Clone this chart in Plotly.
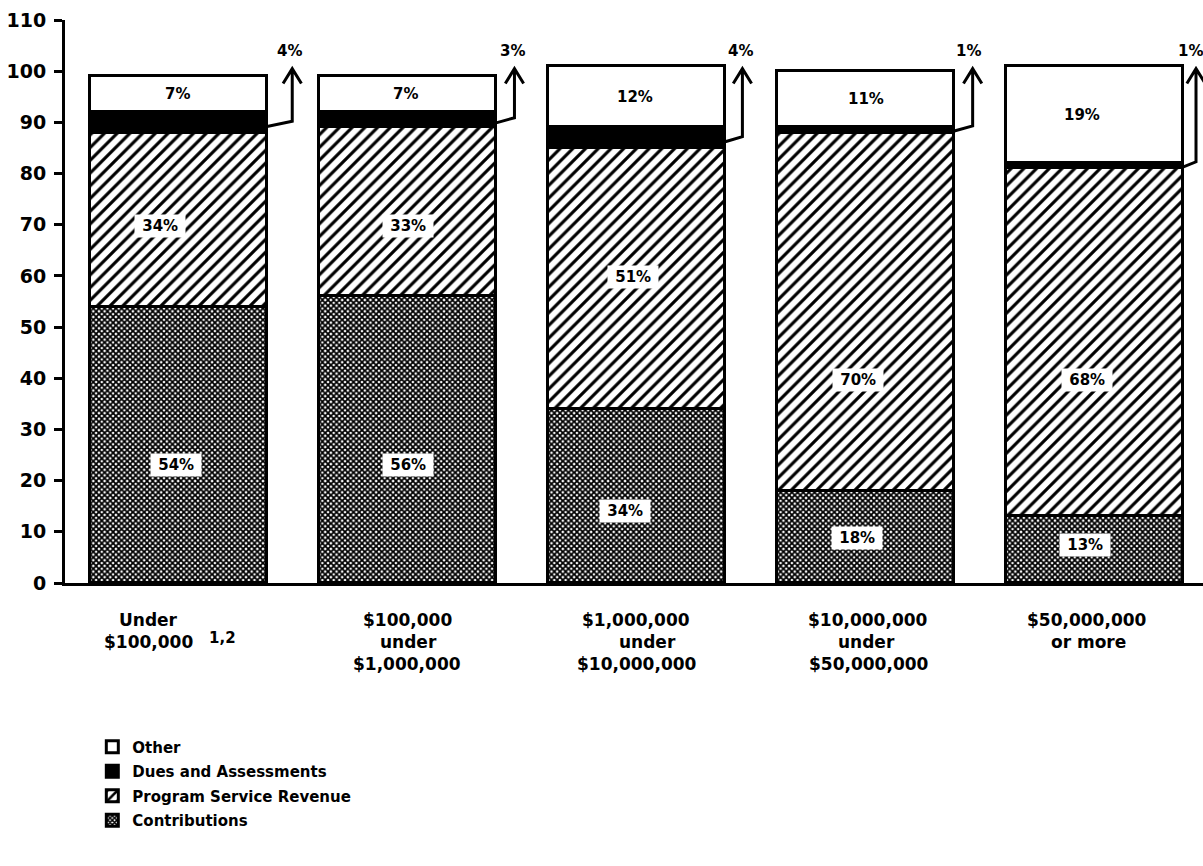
import plotly.graph_objects as go

# Revenue composition by size of total assets (percent of total revenue)
categories = [
    "Under $100,000",
    "$100,000 under $1,000,000",
    "$1,000,000 under $10,000,000",
    "$10,000,000 under $50,000,000",
    "$50,000,000 or more",
]
category_lines = [
    ["Under", "$100,000"],
    ["$100,000", "under", "$1,000,000"],
    ["$1,000,000", "under", "$10,000,000"],
    ["$10,000,000", "under", "$50,000,000"],
    ["$50,000,000", "or more"],
]
contributions = [54, 56, 34, 18, 13]
program_service = [34, 33, 51, 70, 68]
dues = [4, 3, 4, 1, 1]
other = [7, 7, 12, 11, 19]
y_ticks = list(range(0, 111, 10))

FONT = "DejaVu Sans"
BAR_W = 0.773
xs = list(range(len(categories)))

fig = go.Figure()

line_style = dict(color="black", width=3)

fig.add_trace(go.Bar(
    name="Contributions", x=xs, y=contributions, width=BAR_W,
    legendgroup="c", legendrank=4,
    marker=dict(color="white", line=line_style,
                pattern=dict(shape="x", size=4, solidity=0.7,
                             fgcolor="black", bgcolor="white", fgopacity=1)),
))
fig.add_trace(go.Bar(
    name="Program Service Revenue", x=xs, y=program_service, width=BAR_W,
    legendgroup="p", legendrank=3,
    marker=dict(color="white", line=line_style,
                pattern=dict(shape="/", size=9, solidity=0.35,
                             fgcolor="black", bgcolor="white", fgopacity=1)),
))
fig.add_trace(go.Bar(
    name="Dues and Assessments", x=xs, y=dues, width=BAR_W,
    legendgroup="d", legendrank=2,
    marker=dict(color="black", line=line_style),
))
fig.add_trace(go.Bar(
    name="Other", x=xs, y=other, width=BAR_W,
    legendgroup="o", legendrank=1,
    marker=dict(color="white", line=line_style),
))

annotations = []
shapes = []

def pct_label(x, y, value, dx=0, box=True):
    annotations.append(dict(
        x=x, y=y, xref="x", yref="y", xshift=dx,
        text=("\u00a0%d%%\u00a0" % value) if box else "%d%%" % value,
        showarrow=False, bgcolor="white" if box else None, borderpad=2,
        font=dict(family=FONT, size=15, color="black", weight="bold"),
    ))

# label placement inside segments (value units / pixel nudges)
contrib_label_y = [23, 23, 14, 8.8, 7.4]
contrib_label_dx = [-2, 0, -12, -9, -10]
program_label_y = [69.7, 69.7, 59.8, 39.7, 39.7]
program_label_dx = [-18, 0, -4, -8, -8]
other_label_dx = [-1, -2, -2, 0, -13]
arrow_offset = [0.11, 0.08, 0.075, 0.08, 0.055]
arrow_label_dx = [-3, -2, -2, -4, -6]

for i in xs:
    pct_label(i, contrib_label_y[i], contributions[i], contrib_label_dx[i])
    pct_label(i, program_label_y[i], program_service[i], program_label_dx[i])
    base_other = contributions[i] + program_service[i] + dues[i]
    pct_label(i, base_other + other[i] / 2, other[i], other_label_dx[i], box=False)

    # callout arrow for the thin dues segment
    base_dues = contributions[i] + program_service[i]
    x_r = i + BAR_W / 2
    y0 = base_dues + dues[i] * 0.3
    x1 = x_r + arrow_offset[i]
    y1 = y0 + 1.0
    y_tip = 100.5
    dx, dy = 0.04, 2.9
    shapes.append(dict(
        type="path", xref="x", yref="y",
        path=(f"M{x_r},{y0} L{x1},{y1} L{x1},{y_tip} "
              f"M{x1 - dx},{y_tip - dy} L{x1},{y_tip} L{x1 + dx},{y_tip - dy}"),
        line=dict(color="black", width=3),
    ))
    annotations.append(dict(
        x=x1, y=y_tip, xref="x", yref="y", xshift=arrow_label_dx[i], yshift=18,
        text="%d%%" % dues[i], showarrow=False,
        font=dict(family=FONT, size=15, color="black", weight="bold"),
    ))

# category labels below the axis, one annotation per line
line_dx = [[-30, -30], [0, 1, -1], [-1, 11, 0], [2, 1, 3], [-8, -6]]
for i, lines in enumerate(category_lines):
    for k, txt in enumerate(lines):
        annotations.append(dict(
            x=i, y=0, xref="x", yref="paper", xshift=line_dx[i][k],
            yshift=-(37 + 22 * k), yanchor="middle",
            text=txt, showarrow=False,
            font=dict(family=FONT, size=17, color="black", weight="bold"),
        ))
annotations.append(dict(
    x=0, y=0, xref="x", yref="paper", xshift=44, yshift=-55, yanchor="middle",
    text="1,2", showarrow=False,
    font=dict(family=FONT, size=15, color="black", weight="bold"),
))

fig.update_layout(
    width=1203, height=866,
    margin=dict(l=65, r=0, t=20, b=283),
    barmode="stack", bargap=0,
    plot_bgcolor="white", paper_bgcolor="white",
    font=dict(family=FONT, color="black"),
    shapes=shapes, annotations=annotations,
    showlegend=True,
    legend=dict(
        x=0.024, y=-0.262, xanchor="left", yanchor="top",
        traceorder="grouped", tracegroupgap=2,
        font=dict(family=FONT, size=15, color="black", weight="bold"),
        bgcolor="rgba(0,0,0,0)",
    ),
    xaxis=dict(
        range=[-0.4954, 4.472], showline=True, linewidth=3, linecolor="black",
        showticklabels=False, ticks="", showgrid=False, zeroline=False,
    ),
    yaxis=dict(
        range=[0, 110], tickvals=y_ticks, showline=True, linewidth=3,
        linecolor="black", ticks="outside", ticklen=8, tickwidth=3,
        tickcolor="black", showgrid=False, zeroline=False,
        ticklabelstandoff=4,
        tickfont=dict(family=FONT, size=19, color="black", weight="bold"),
    ),
)

fig.write_html("out.html")
